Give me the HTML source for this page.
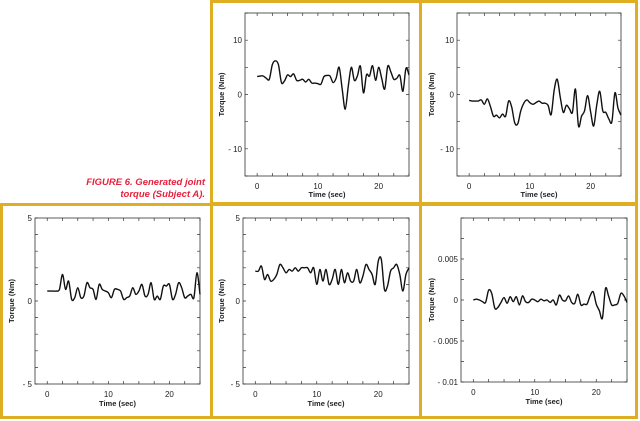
<!DOCTYPE html>
<html><head><meta charset="utf-8"><style>
body{margin:0;background:#fff;width:640px;height:421px;overflow:hidden}
svg{display:block;font-family:"Liberation Sans",sans-serif}
</style></head><body>
<svg id="s" width="640" height="421">
<g fill="none" stroke="#e0ae22" stroke-width="3">
<rect x="211.5" y="1.5" width="209" height="202"/>
<rect x="420.5" y="1.5" width="216" height="202"/>
<rect x="1.5" y="204.5" width="210" height="213"/>
<rect x="211.5" y="204.5" width="209" height="213"/>
<rect x="420.5" y="204.5" width="216" height="213"/>
</g>
<g fill="#e8203c" font-size="9.5" font-weight="bold" font-style="italic" text-anchor="end">
<text x="205" y="185">FIGURE 6. Generated joint</text>
<text x="205" y="197">torque (Subject A).</text>
</g>
</svg>
<script>
const times=[0,0.5,1,1.5,2,2.5,3,3.5,4,4.5,5,5.5,6,6.5,7,7.5,8,8.5,9,9.5,10,10.5,11,11.5,12,12.5,13,13.5,14,14.5,15,15.5,16,16.5,17,17.5,18,18.5,19,19.5,20,20.5,21,21.5,22,22.5,23,23.5,24,24.5,25];
const seriesA=[3.3,3.4,3.4,3,2.8,5.5,6.2,5.5,2.2,2.5,3.6,3.3,3.8,2.6,2.6,2.8,2.3,2.8,2.1,2.1,2.0,1.9,3.3,3.5,3.4,2.2,3.0,5.0,1.0,-2.7,1.5,5.0,2.6,3.4,5.2,0.3,3.6,3.4,5.3,2.6,5.0,3.0,1.0,5.2,4.2,2.8,3.0,3.5,0.6,4.8,3.6];
const seriesB=[-1.1,-1.2,-1.2,-1.2,-1.0,-1.8,-0.8,-2.2,-4.0,-3.8,-4.3,-3.6,-4.0,-1.2,-2.3,-5.2,-5.4,-3.0,-1.6,-1.0,-1.5,-1.8,-1.5,-1.2,-1.6,-1.6,-2.0,-3.7,0.8,2.8,-0.5,-3.3,-2.0,-2.6,-3.3,1.0,-5.8,-4.0,-3.0,-0.2,-3.2,-5.8,-2.0,0.6,-3.0,-3.3,-4.5,-5.0,0.3,-2.5,-3.8];
const seriesC=[0.6,0.6,0.6,0.6,0.7,1.6,0.7,1.2,0.1,0.2,0.8,0.2,0.3,1.1,0.8,0.7,0.1,1.0,0.7,0.6,0.5,0.2,0.7,0.7,0.6,0.1,0.2,0.3,0.8,0.4,0.6,1.0,0.3,0.4,1.1,0.1,0.3,0.1,0.9,0.9,1.0,0.1,0.4,1.1,0.8,0.2,0.3,0.4,0.2,1.7,0.4];
const seriesD=[1.8,1.8,2.1,1.3,1.6,1.2,1.3,1.6,2.2,2.0,1.7,1.9,1.8,2.0,1.8,2.0,2.0,2.0,1.7,2.0,1.0,1.9,1.2,1.9,1.0,1.3,1.9,1.0,1.9,1.1,1.7,1.2,1.2,1.9,1.1,1.5,2.2,1.9,1.6,1.0,2.4,2.5,0.7,0.9,1.8,2.0,2.2,1.6,0.6,1.6,2.0];
const seriesE=[0,0.1,0,-0.2,-0.3,1.2,0.8,-1.0,-0.9,-0.3,0.3,-0.4,0.4,-0.2,0.4,-0.6,0.5,-0.2,-0.3,0.1,0,-0.2,0.1,-0.1,0,-0.3,0,-0.6,0.6,0,-0.1,0.5,-0.3,-0.4,0.7,-0.6,-0.5,-0.5,0.5,1.0,-0.5,-1.3,-2.2,1.4,0.5,-0.6,-0.6,-0.4,0.8,0.5,-0.3].map(v=>v*0.001);
const xTicks=[0,10,20];
const ticksA=[-10,0,10], labelsA=["- 10","0","10"];
const ticksC=[-5,0,5], labelsC=["- 5","0","5"];
const ticksE=[-0.01,-0.005,0,0.005], labelsE=["- 0.01","- 0.005","0","0.005"];

const NS="http://www.w3.org/2000/svg";
const svg=document.getElementById('s');
function mk(t,a,p){const e=document.createElementNS(NS,t);for(const k in a)e.setAttribute(k,a[k]);(p||svg).appendChild(e);return e;}
const panels=[
 {name:'top-middle',x0:245,x1:409,y0:13,y1:176,ymin:-15,ymax:15,data:seriesA,yt:ticksA,yl:labelsA,minor:5,ylab:224,xlab:197},
 {name:'top-right',x0:457,x1:621,y0:13,y1:176,ymin:-15,ymax:15,data:seriesB,yt:ticksA,yl:labelsA,minor:5,ylab:434,xlab:197},
 {name:'bottom-left',x0:35,x1:200,y0:218,y1:384,ymin:-5,ymax:5,data:seriesC,yt:ticksC,yl:labelsC,minor:1,ylab:14,xlab:406},
 {name:'bottom-middle',x0:243,x1:409,y0:218,y1:384,ymin:-5,ymax:5,data:seriesD,yt:ticksC,yl:labelsC,minor:1,ylab:224,xlab:406},
 {name:'bottom-right',x0:461,x1:627,y0:218,y1:382,ymin:-0.01,ymax:0.01,data:seriesE,yt:ticksE,yl:labelsE,minor:0.0025,ylab:434,xlab:404}
];
const xmin=-2,xmax=25;
panels.forEach(p=>{
 const g=mk('g',{});
 
 
 const X=v=>p.x0+(v-xmin)/(xmax-xmin)*(p.x1-p.x0);
 const Y=v=>p.y1-(v-p.ymin)/(p.ymax-p.ymin)*(p.y1-p.y0);
 const box=mk('rect',{x:p.x0,y:p.y0,width:p.x1-p.x0,height:p.y1-p.y0,fill:'none',stroke:'#333','stroke-width':0.8},g);
 
 
 let tk='';
 for(let v=0;v<=xmax;v+=2.5){const x=X(v);tk+=`M${x},${p.y1}v-3M${x},${p.y0}v3`;}
 for(let v=p.ymin;v<=p.ymax+1e-9;v+=p.minor){const y=Y(v);tk+=`M${p.x0},${y}h3M${p.x1},${y}h-3`;}
 const t=mk('path',{d:tk,stroke:'#333','stroke-width':0.7,fill:'none'},g);
 
 
 xTicks.forEach(v=>{const e=mk('text',{x:X(v),y:p.y1+13,'font-size':8,'text-anchor':'middle',fill:'#222'},g);e.textContent=v;
  
  });
 p.yt.forEach((v,i)=>{const e=mk('text',{x:p.x0-3,y:Y(v)+3,'font-size':8,'text-anchor':'end',fill:'#222'},g);e.textContent=p.yl[i];
  
  });
 const xl=mk('text',{x:(p.x0+p.x1)/2,y:p.xlab,'font-size':7.5,'font-weight':'bold','text-anchor':'middle',fill:'#222'},g);xl.textContent='Time (sec)';
 
 
 const cy=(p.y0+p.y1)/2;
 const yl=mk('text',{x:p.ylab,y:cy,'font-size':7.5,'font-weight':'bold','text-anchor':'middle',fill:'#222',transform:`rotate(-90 ${p.ylab} ${cy})`},g);yl.textContent='Torque (Nm)';
 
 
 const pts=times.map((tt,i)=>[X(tt),Y(p.data[i])]);
 let d=`M${pts[0][0]},${pts[0][1]}`;
 for(let i=0;i<pts.length-1;i++){const a=pts[i-1]||pts[i],b=pts[i],c=pts[i+1],e=pts[i+2]||c;
  d+=`C${b[0]+(c[0]-a[0])/6},${b[1]+(c[1]-a[1])/6} ${c[0]-(e[0]-b[0])/6},${c[1]-(e[1]-b[1])/6} ${c[0]},${c[1]}`;}
 const ln=mk('path',{d:d,fill:'none',stroke:'#111','stroke-width':1.4},g);
 
 
});
</script>
</body></html>
